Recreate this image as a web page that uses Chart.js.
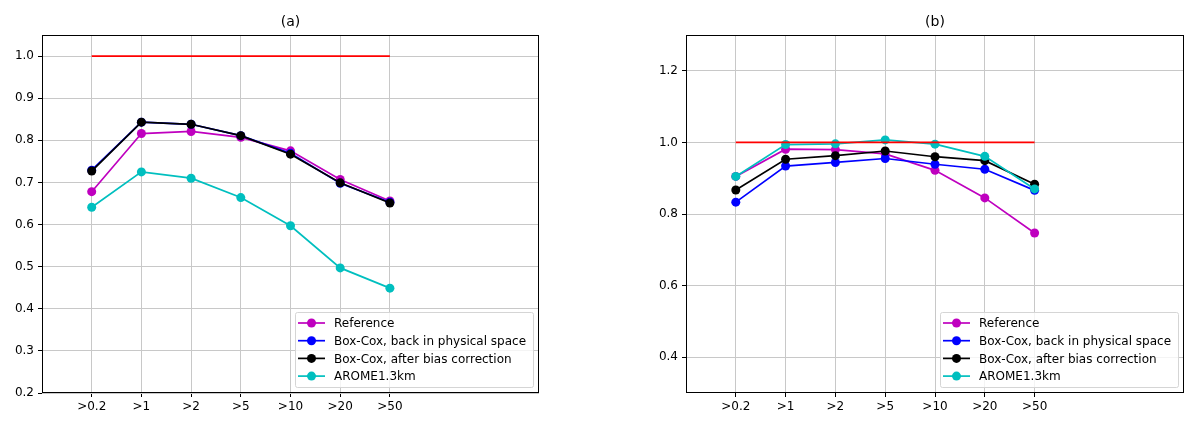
<!DOCTYPE html>
<html>
<head>
<meta charset="utf-8">
<script src="https://cdn.jsdelivr.net/npm/chart.js@4.4.0/dist/chart.umd.min.js"></script>
<style>
    body { margin: 0; background: #fff; }
    .painel { position: absolute; top: 0; width: 600px; height: 428px; }
</style>
</head>
<body>
<div class="painel" style="left:0px"><canvas id="graficoA" width="600" height="428"></canvas></div>
<div class="painel" style="left:600px"><canvas id="graficoB" width="600" height="428"></canvas></div>
<script>
const categorias = ['>0.2', '>1', '>2', '>5', '>10', '>20', '>50']
const nomesSeries = ['Reference', 'Box-Cox, back in physical space', 'Box-Cox, after bias correction', 'AROME1.3km']
const coresSeries = ['#bf00bf', '#0000ff', '#000000', '#00bfbf']

// painel (a)
const referenciaA = [0.678, 0.816, 0.821, 0.807, 0.775, 0.707, 0.656]
const boxCoxFisicoA = [0.729, 0.843, 0.838, 0.811, 0.769, 0.698, 0.653]
const boxCoxCorrigidoA = [0.727, 0.843, 0.838, 0.811, 0.767, 0.699, 0.651]
const aromeA = [0.641, 0.725, 0.710, 0.664, 0.597, 0.497, 0.449]
const ticksA = [0.2, 0.3, 0.4, 0.5, 0.6, 0.7, 0.8, 0.9, 1.0]

// painel (b)
const referenciaB = [0.905, 0.981, 0.980, 0.968, 0.922, 0.845, 0.747]
const boxCoxFisicoB = [0.833, 0.934, 0.944, 0.955, 0.939, 0.925, 0.866]
const boxCoxCorrigidoB = [0.867, 0.953, 0.963, 0.976, 0.960, 0.949, 0.883]
const aromeB = [0.905, 0.994, 0.996, 1.007, 0.995, 0.961, 0.870]
const ticksB = [0.4, 0.6, 0.8, 1.0, 1.2]

const linhaIdeal = [1.0, 1.0]

const fonte = 'DejaVu Sans'

function pontos(valores) {
    return valores.map((v, i) => ({ x: i, y: v }))
}

const molduraLegenda = {
    id: 'molduraLegenda',
    afterDatasetsDraw(chart, args, opts) {
        const { ctx, chartArea } = chart
        ctx.save()
        // moldura dos eixos
        ctx.strokeStyle = '#000'
        ctx.lineWidth = 1
        ctx.strokeRect(chartArea.left + 0.5, chartArea.top + 0.5, chartArea.right - chartArea.left - 1, chartArea.bottom - chartArea.top - 1)

        // titulo
        ctx.fillStyle = '#000'
        ctx.font = '14px "' + fonte + '"'
        ctx.textAlign = 'center'
        ctx.textBaseline = 'middle'
        ctx.fillText(opts.titulo, (chartArea.left + chartArea.right) / 2, chartArea.top - 13)

        // legenda dentro do grafico
        const larg = 238
        const alt = 75
        const x0 = chartArea.right - 6 - larg
        const y0 = chartArea.bottom - 6 - alt
        ctx.globalAlpha = 0.8
        ctx.fillStyle = '#fff'
        ctx.beginPath()
        ctx.roundRect(x0 + 0.5, y0 + 0.5, larg, alt, 2)
        ctx.fill()
        ctx.globalAlpha = 1
        ctx.strokeStyle = '#d5d5d5'
        ctx.stroke()

        ctx.font = '12px "' + fonte + '"'
        ctx.textAlign = 'left'
        nomesSeries.forEach((nome, i) => {
            const y = y0 + 11 + i * 17.7
            ctx.strokeStyle = coresSeries[i]
            ctx.lineWidth = 1.7
            ctx.beginPath()
            ctx.moveTo(x0 + 3, y)
            ctx.lineTo(x0 + 30, y)
            ctx.stroke()
            ctx.fillStyle = coresSeries[i]
            ctx.beginPath()
            ctx.arc(x0 + 16.5, y, 4.5, 0, Math.PI * 2)
            ctx.fill()
            ctx.fillStyle = '#000'
            ctx.fillText(nome, x0 + 39, y + 1)
        })
        ctx.restore()
    }
}

function criarGrafico(id, titulo, series, ticksY, minY, maxY, esquerda, direita) {
    const ctx = document.getElementById(id).getContext('2d')

    const datasets = series.map((valores, i) => ({
        label: nomesSeries[i],
        data: pontos(valores),
        borderColor: coresSeries[i],
        backgroundColor: coresSeries[i],
        pointBackgroundColor: coresSeries[i],
        borderWidth: 1.7,
        pointRadius: 4.5,
        pointBorderWidth: 0,
        order: 4 - i
    }))
    datasets.push({
        label: 'ideal',
        data: [{ x: 0, y: linhaIdeal[0] }, { x: 6, y: linhaIdeal[1] }],
        borderColor: '#ff0000',
        borderWidth: 1.7,
        pointRadius: 0,
        order: 0
    })

    return new Chart(ctx, {
        type: 'line',
        data: { datasets: datasets },
        plugins: [molduraLegenda],
        options: {
            responsive: false,
            animation: false,
            events: [],
            layout: { padding: { left: 0, right: 600 - direita, top: 35, bottom: 0 } },
            scales: {
                x: {
                    type: 'linear',
                    min: -1,
                    max: 9,
                    afterBuildTicks: scale => { scale.ticks = categorias.map((c, i) => ({ value: i })) },
                    afterFit: scale => { scale.height = 35 },
                    grid: { color: '#c8c8c8', lineWidth: 1, tickLength: 4, tickColor: '#000' },
                    border: { display: false },
                    ticks: {
                        padding: 3,
                        color: '#000',
                        font: { family: fonte, size: 12 },
                        callback: value => categorias[value]
                    }
                },
                y: {
                    min: minY,
                    max: maxY,
                    afterBuildTicks: scale => { scale.ticks = ticksY.map(v => ({ value: v })) },
                    afterFit: scale => { scale.width = esquerda },
                    grid: { color: '#c8c8c8', lineWidth: 1, tickLength: 4, tickColor: '#000' },
                    border: { display: false },
                    ticks: {
                        padding: 4,
                        color: '#000',
                        font: { family: fonte, size: 12 },
                        callback: value => value.toFixed(1)
                    }
                }
            },
            plugins: {
                legend: { display: false },
                tooltip: { enabled: false },
                molduraLegenda: { titulo: titulo }
            }
        }
    })
}

criarGrafico('graficoA', '(a)', [referenciaA, boxCoxFisicoA, boxCoxCorrigidoA, aromeA], ticksA, 0.2, 1.05, 42, 539)
criarGrafico('graficoB', '(b)', [referenciaB, boxCoxFisicoB, boxCoxCorrigidoB, aromeB], ticksB, 0.3, 1.3, 86, 584)
</script>
</body>
</html>
